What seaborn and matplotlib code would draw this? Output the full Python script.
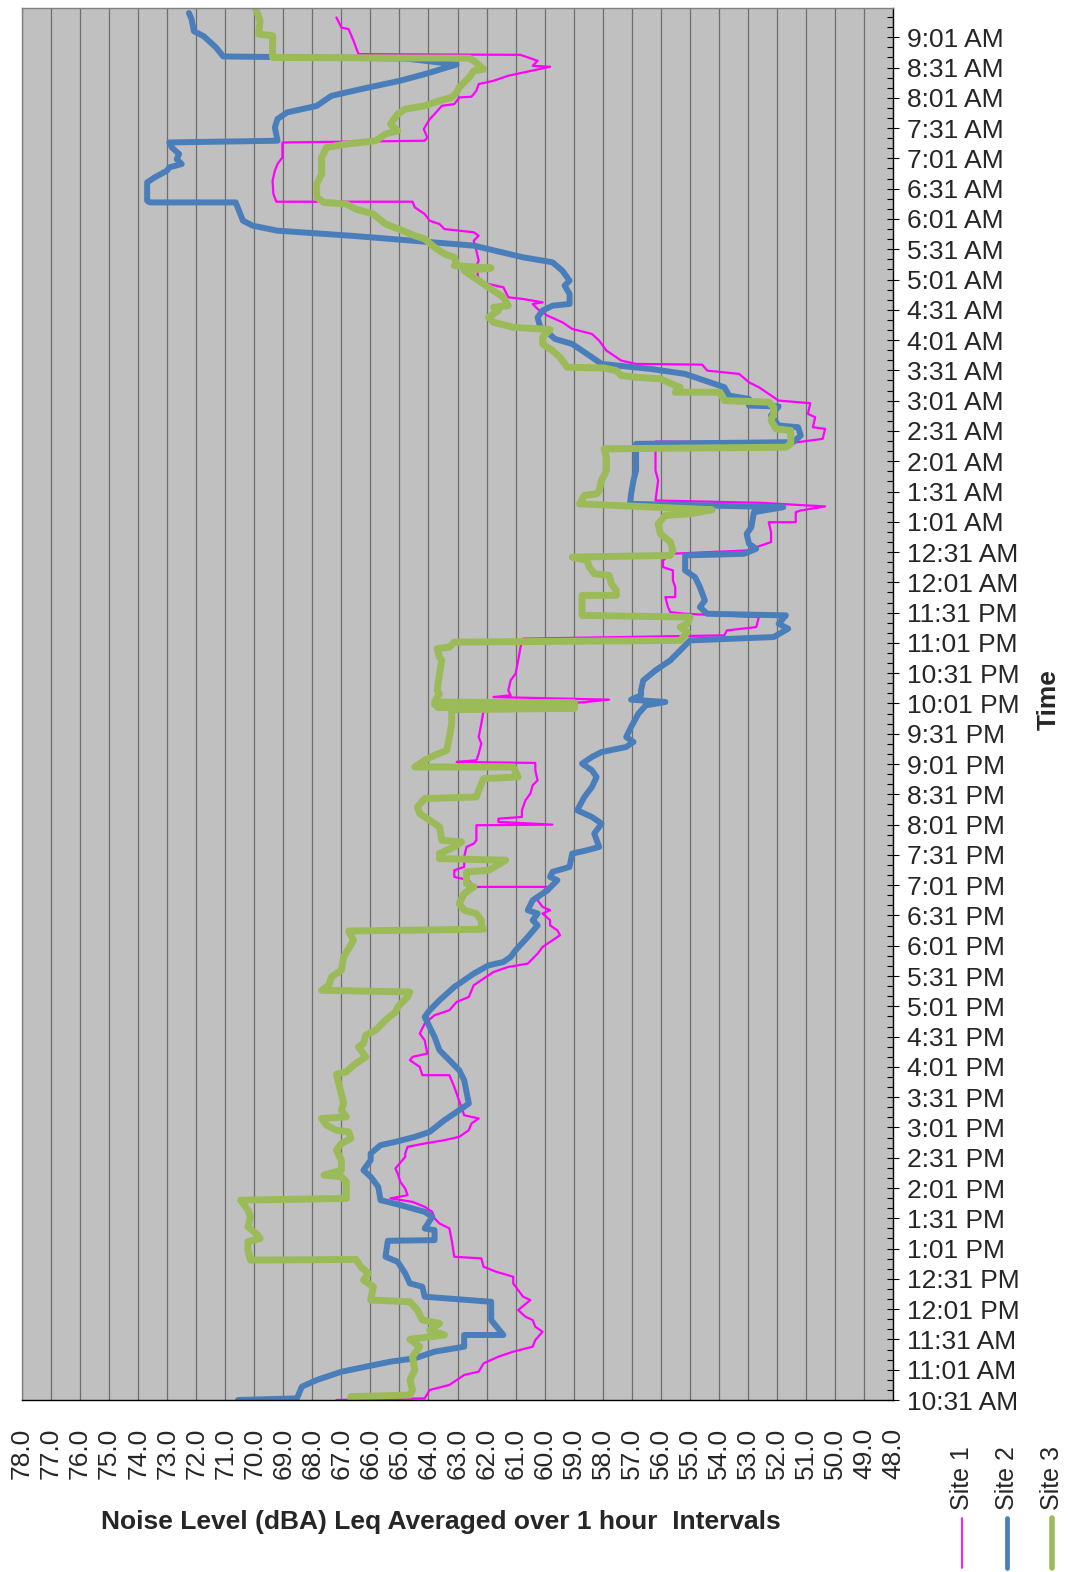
import numpy as np
import pandas as pd
import matplotlib
matplotlib.use("Agg")
import matplotlib.pyplot as plt
from matplotlib.ticker import MultipleLocator
from matplotlib.lines import Line2D
import seaborn as sns

# ---------------- data (minutes after 10:31 AM, noise level dBA) ----------------
TIME_LABELS = ["10:31 AM", "11:01 AM", "11:31 AM", "12:01 PM", "12:31 PM", "1:01 PM", "1:31 PM",
               "2:01 PM", "2:31 PM", "3:01 PM", "3:31 PM", "4:01 PM", "4:31 PM", "5:01 PM",
               "5:31 PM", "6:01 PM", "6:31 PM", "7:01 PM", "7:31 PM", "8:01 PM", "8:31 PM",
               "9:01 PM", "9:31 PM", "10:01 PM", "10:31 PM", "11:01 PM", "11:31 PM", "12:01 AM",
               "12:31 AM", "1:01 AM", "1:31 AM", "2:01 AM", "2:31 AM", "3:01 AM", "3:31 AM",
               "4:01 AM", "4:31 AM", "5:01 AM", "5:31 AM", "6:01 AM", "6:31 AM", "7:01 AM",
               "7:31 AM", "8:01 AM", "8:31 AM", "9:01 AM"]
LEVEL_TICKS = [48.0 + i for i in range(31)]
SERIES_NAMES = ["Site 1", "Site 2", "Site 3"]

SITE1 = [(1369.6,67.17),(1359.7,67.00),(1358,66.75),(1346.5,66.58),(1333.3,66.41),(1332.6,60.83),
(1326.7,60.24),(1321.7,60.41),(1320.8,59.81),(1315.1,60.74),(1311.9,61.25),(1306.9,61.76),(1303.6,62.27),
(1297,62.35),(1291.1,62.52),(1290.4,62.94),(1283.8,63.11),(1282.1,63.54),(1273.9,63.79),(1268.9,63.96),
(1259,64.16),(1250.8,64.04),(1247.5,64.13),(1245.8,69.03),(1231,69.03),(1224.4,69.20),(1217.8,69.29),
(1207.9,69.37),(1194.7,69.34),(1187.1,69.24),(1187.1,64.55),(1181.5,64.47),(1174.9,64.13),(1168.3,63.96),
(1165,63.62),(1160,63.45),(1156.8,62.44),(1153.4,62.27),(1148.5,62.44),(1138.6,62.35),(1128.7,62.27),
(1123.8,62.35),(1108.9,62.27),(1105.6,61.93),(1102.3,61.42),(1092.4,61.25),(1090.7,60.74),(1087.4,60.07),
(1085.8,60.41),(1080.8,60.24),(1074.2,59.90),(1067.7,59.39),(1061.1,59.05),(1056.1,58.37),(1049.5,58.12),
(1039.6,57.87),(1029.7,57.36),(1026.4,56.85),(1025.7,54.57),(1019.8,54.40),(1016.5,53.30),(1008.2,52.96),
(1003.3,52.62),(996.7,52.28),(990.1,51.94),(987.5,50.85),(976.9,50.93),(973.6,50.68),(963.7,50.76),
(962.1,50.34),(952.2,50.42),(948.9,51.27),(949.5,56.18),(920.8,56.18),(910.9,56.09),(891.1,56.18),
(888.8,52.54),(885.2,50.34),(881.2,51.18),(879.5,51.35),(869.6,51.35),(869.6,52.28),(859.7,52.20),
(849.9,52.20),(841.6,53.04),(838.3,55.67),(831.7,55.92),(825.1,55.92),(821.8,55.58),(811.9,55.58),
(805.3,55.50),(795.4,55.50),(795.4,55.84),(785.5,55.75),(780.5,55.67),(778.9,55.16),(775.6,52.62),
(765.7,52.71),(762.4,53.72),(757.5,53.81),(754.2,60.74),(745.9,60.83),(732.7,60.91),(719.5,61.00),
(712.9,61.17),(703,61.25),(698.1,61.17),(696.4,61.76),(693.8,57.78),(691.1,58.71),(688.2,62.06),
(683.2,62.10),(670,62.18),(656.8,62.27),(650.2,62.18),(640.3,62.27),(633.7,62.35),(632.1,63.03),
(631.1,60.32),(623.8,60.32),(613.9,60.24),(609,60.41),(600.7,60.49),(594.1,60.66),(584.2,60.78),
(577.6,60.78),(575.9,61.59),(572.7,61.59),(570,59.73),(569.4,62.35),(554.5,62.35),(551.2,62.44),
(547.9,62.69),(538,62.77),(528.1,62.77),(524.8,63.11),(518.2,63.11),(516.5,62.86),(514.9,62.61),
(508.3,62.44),(508.3,59.90),(503.4,60.07),(495.1,60.24),(488.5,60.07),(485.2,59.81),(481.9,60.07),
(475.3,59.81),(470.2,59.81),(465.3,59.56),(460.4,59.47),(455.4,59.73),(448.8,60.07),(442.2,60.24),
(432.3,60.58),(429,61.25),(424,61.76),(417.4,62.10),(410.9,62.44),(399.3,62.61),(394.3,63.03),
(386.1,63.28),(381.2,63.79),(372.9,64.13),(363,64.30),(356.4,64.13),(343.2,64.04),(339.9,64.55),
(336.6,64.64),(330,64.30),(321.8,64.21),(321.8,63.28),(310.2,63.11),(303.6,63.03),(282.1,62.77),
(278.9,62.27),(273.9,62.52),(267.3,62.61),(260.7,62.94),(257.4,63.45),(254.1,64.13),(250.8,64.72),
(244.2,64.80),(240.9,64.80),(229.4,65.14),(224.4,65.06),(216.2,64.97),(209.5,64.80),(202.9,64.72),
(199.7,65.31),(196.3,64.55),(191.4,64.13),(186.4,63.87),(179.9,63.79),(174.9,63.62),(170,63.28),
(158.4,63.20),(141.9,63.11),(140.3,62.18),(132,62.10),(127.1,61.67),(122.1,61.08),(115.5,61.08),
(108.9,60.91),(102.3,60.74),(99,60.49),(89.1,60.91),(82.5,60.66),(79.2,60.41),(72.6,60.32),
(67.6,60.07),(59.4,60.32),(52.8,60.41),(47.9,61.08),(42.9,61.59),(36.3,62.10),(28.1,62.27),
(24.8,62.77),(14.9,63.28),(9.9,63.96),(1.6,64.13),(0,67.17)]

SITE2 = [(1374,72.25),(1368,72.16),(1356,72.08),(1351,71.74),(1340,71.32),(1331,71.07),(1329,64.80),
(1323,63.03),(1313.5,64.13),(1307,64.97),(1298.6,66.33),(1292,67.34),(1287,67.60),(1282,67.85),
(1275.6,68.87),(1269,69.20),(1260.7,69.29),(1247.5,69.20),(1245.8,72.93),(1240.9,72.84),(1234.3,72.59),
(1229.3,72.67),(1224.4,72.50),(1221.1,72.93),(1217.8,73.01),(1211.2,73.43),(1206.2,73.69),(1188.1,73.69),
(1186.4,73.60),(1186.4,70.64),(1168.3,70.39),(1163.3,70.05),(1158.4,69.20),(1153.4,66.67),(1143.6,62.44),
(1132,60.74),(1127.1,59.73),(1118.8,59.39),(1108.9,59.14),(1104,59.31),(1095.7,59.14),(1085.8,59.14),
(1084.1,59.73),(1079.2,60.07),(1072.6,60.24),(1062.7,60.15),(1057.7,59.90),(1051.1,59.64),(1046.2,59.05),
(1033,58.37),(1026.4,58.04),(1021.4,56.34),(1016.5,55.16),(1008.2,54.31),(1003.3,53.81),(995,53.64),
(991.7,52.96),(985.2,52.96),(984.2,51.94),(975.3,52.20),(965.4,51.94),(963.7,51.27),(955.5,51.18),
(948.9,51.44),(947.2,56.85),(940.6,56.85),(920.8,56.85),(910.9,56.94),(897.7,57.02),(887.8,57.06),
(884.5,51.78),(879.5,52.79),(864.7,52.88),(858.1,53.04),(848.2,52.96),(843.3,52.71),(838.3,53.13),
(836.7,55.16),(821.8,55.16),(815.2,54.82),(805.3,54.65),(792.1,54.48),(785.5,54.65),(778.9,54.40),
(777.3,51.69),(769,51.94),(764.1,51.61),(755.8,52.11),(752.5,54.99),(742.6,55.33),(732.7,55.67),
(722.8,56.18),(712.9,56.60),(703,56.68),(698.1,56.68),(693.8,57.02),(691.5,55.84),(688.2,56.51),
(679.9,56.77),(666.7,57.02),(656.8,57.19),(651.9,56.94),(646.9,57.19),(641.9,58.04),(637,58.37),
(630.4,58.71),(623.8,58.37),(617.2,58.21),(607.3,58.37),(597.4,58.63),(584.2,58.88),(577.6,58.37),
(571,58.04),(561.1,58.29),(547.9,58.12),(544.6,58.54),(541.3,59.05),(528.1,59.14),(523.2,59.73),
(518.2,59.81),(514.9,59.56),(505,59.90),(495.1,60.41),(485.2,60.58),(481.9,60.24),(475.3,60.41),
(470.2,60.24),(458.7,60.58),(445.5,61.00),(438.9,61.17),(433.9,61.42),(430.6,61.93),(422.4,62.44),
(409.2,63.11),(396,63.62),(386.1,63.96),(379.5,64.13),(369.6,63.96),(359.7,63.79),(346.5,63.62),
(336.6,63.28),(326.7,62.94),(316.8,62.77),(293.7,62.61),(287.1,62.94),(277.2,63.45),(265.6,63.96),
(260.7,64.47),(255.7,65.14),(252.5,65.65),(244.2,65.99),(237.6,65.99),(227.7,66.24),(221.1,65.99),
(211.2,65.73),(198,65.65),(193.1,64.97),(186.4,64.13),(181.5,63.87),(169.9,64.13),(168.3,63.79),
(158.4,63.79),(157.7,65.40),(141.9,65.48),(136.9,65.06),(125.4,64.80),(115.5,64.64),(112.2,64.21),
(102.3,64.13),(97.3,61.84),(79.2,61.84),(64.4,61.42),(64.4,62.77),(52.8,62.77),(47.9,63.79),
(41.3,64.47),(38,65.31),(33,66.16),(28,67.00),(19.8,67.85),(13.2,68.36),(1.6,68.53),(0,70.56)]

SITE3 = [(1379.5,69.97),(1372.9,69.88),(1366.3,69.80),(1353.1,69.85),(1351.5,69.37),(1330,69.37),
(1329.3,62.60),(1326.7,62.44),(1318.4,62.10),(1316.8,62.44),(1310.2,62.60),(1300.3,62.94),(1295.4,63.03),
(1290.4,63.20),(1287.1,63.62),(1282.1,64.13),(1278.8,64.80),(1273.9,65.06),(1264,65.31),(1257.4,65.06),
(1254.1,65.48),(1247.5,65.82),(1244.2,66.83),(1240.9,67.51),(1231,67.68),(1214.5,67.68),(1204.6,67.85),
(1191.4,67.85),(1186.4,67.60),(1184.8,66.83),(1179.8,66.50),(1174.9,65.90),(1165,65.48),(1158.4,64.89),
(1153.4,64.47),(1150.2,64.13),(1141.9,63.79),(1135.3,63.45),(1132,63.11),(1125.4,63.03),(1123.8,63.11),
(1121.4,61.84),(1118.8,62.77),(1112.2,62.44),(1105.6,62.10),(1099,61.76),(1092.4,61.42),(1084.1,61.25),
(1082.5,61.76),(1079.2,61.59),(1072.6,61.93),(1067.7,61.76),(1062.7,61.08),(1060.4,59.81),(1052.8,60.07),
(1046.2,60.07),(1039.6,59.73),(1033,59.47),(1023.1,59.22),(1022.4,57.95),(1019.8,57.53),(1014.9,57.36),
(1013.2,56.85),(1011.6,56.01),(1005,55.50),(1003.3,55.33),(998.4,55.50),(998.4,53.98),(990.1,53.81),
(988.5,52.28),(983.5,52.11),(976.9,52.11),(970.3,52.20),(962.1,52.03),(960.4,51.52),(947.2,51.52),
(943.9,51.69),(942.3,57.95),(934,57.87),(920.8,57.87),(910.9,58.04),(901,58.12),(897.7,58.21),
(896.1,58.63),(887.8,58.80),(881.9,54.23),(877.9,54.99),(876.3,55.84),(868,56.09),(858.1,56.01),
(849.9,55.67),(841.6,55.58),(836.7,55.67),(835,59.05),(831.7,58.54),(825.1,58.46),(818.5,58.29),
(816.9,57.78),(808.6,57.70),(802,57.53),(797.1,57.53),(797.1,58.71),(777.3,58.71),(775.6,54.99),
(769,55.08),(765.7,55.33),(760.7,55.08),(752.5,55.33),(750.8,63.11),(745.9,63.28),(744.3,63.70),
(736,63.62),(732.7,63.54),(719.5,63.62),(703,63.70),(699.7,63.62),(691.5,63.79),(690.5,58.97),
(689.1,63.79),(687.8,58.97),(686.5,63.70),(685.2,58.97),(683.9,63.20),(670,63.20),(656.8,63.28),
(643.6,63.37),(638.7,63.79),(633.7,64.13),(627.1,64.47),(627.1,61.08),(617.2,60.91),(615.6,62.10),
(604,62.27),(597.4,62.35),(595.8,64.13),(587.5,64.38),(580.9,64.30),(572.7,63.87),(567.7,63.62),
(554.5,63.54),(552.9,62.86),(547.9,63.11),(541.3,63.62),(536.4,63.62),(534.7,61.34),(524.8,61.93),
(523.2,62.69),(511.6,62.69),(508.3,62.44),(501.7,62.77),(491.8,62.94),(485.2,62.77),(481.9,62.35),
(475.3,62.18),(470.4,62.18),(466.4,62.10),(464.6,66.75),(455.4,66.58),(447.1,66.75),(438.9,66.92),
(425.7,67.00),(419.1,67.34),(410.9,67.43),(405.9,67.68),(404.2,64.64),(399.3,64.72),(389.4,65.06),
(384.4,65.14),(376.2,65.48),(366.3,65.82),(361.4,66.16),(353.1,66.24),(349.8,66.41),(339.9,66.16),
(331.7,66.58),(325.1,66.83),(322.7,67.17),(313.5,67.09),(303.6,67.00),(293.7,66.92),(287.1,67.00),
(280.5,66.83),(278.9,67.68),(272.2,67.51),(267.3,67.17),(265.6,66.75),(259.1,66.67),(254.1,67.00),
(247.5,67.17),(237.6,67.00),(227.7,67.00),(222.8,67.60),(221.1,67.00),(216.2,66.83),(199.7,66.83),
(198,70.47),(188.1,70.22),(181.5,70.13),(171.6,70.22),(163.4,69.88),(160,69.80),(156.8,70.22),
(148.5,70.22),(138.6,70.13),(139.3,66.50),(132,66.33),(125.4,66.07),(118.8,66.24),(112.2,65.90),
(99,65.99),(97.3,64.64),(89.1,64.38),(79.2,64.21),(75.9,63.62),(69.3,63.96),(64.4,63.45),(60.1,64.64),
(52.8,64.30),(42.9,64.55),(29.7,64.47),(19.8,64.64),(9.9,64.55),(4.9,64.64),(3.3,66.67),(0,66.67)]

COLORS = {"Site 1": "#FF00FF", "Site 2": "#4A7EBB", "Site 3": "#9BBB59"}
WIDTHS = {"Site 1": 1.6, "Site 2": 4.3, "Site 3": 5.0}

# ---------------- build figure ----------------
sns.set_style("white")
plt.rcParams["font.family"] = ["Liberation Sans", "DejaVu Sans"]

W, H = 1068, 1572
fig = plt.figure(figsize=(W / 100, H / 100), dpi=100)
ax = fig.add_axes([22 / W, 1 - 1400 / H, 871 / W, 1392 / H])
ax.set_facecolor("#C0C0C0")

for name, pts in zip(SERIES_NAMES, [SITE1, SITE2, SITE3]):
    df = pd.DataFrame(pts, columns=["minutes", "level"])
    sns.lineplot(data=df, x="level", y="minutes", sort=False, estimator=None, orient="y",
                 color=COLORS[name], linewidth=WIDTHS[name], ax=ax, legend=False,
                 solid_joinstyle="round", solid_capstyle="round")

ax.set_xlim(78, 48)
ax.set_ylim(0, 1379)

ax.set_xticks(LEVEL_TICKS)
ax.set_xticklabels([f"{v:.1f}" for v in LEVEL_TICKS], rotation=90)
ax.xaxis.set_minor_locator(MultipleLocator(0.5))
ax.tick_params(axis="x", which="major", direction="inout", length=8, width=0.8,
               color="black", labelsize=19, pad=16)
ax.tick_params(axis="x", which="minor", direction="in", length=4, width=0.8, color="black")

ax.yaxis.tick_right()
ax.set_yticks([30 * i for i in range(len(TIME_LABELS))])
ax.set_yticklabels(TIME_LABELS)
ax.yaxis.set_minor_locator(MultipleLocator(10))
ax.tick_params(axis="y", which="major", direction="inout", length=8, width=0.8,
               color="black", labelsize=19, pad=6)
ax.tick_params(axis="y", which="minor", direction="in", length=4, width=0.8, color="black")

ax.grid(axis="x", which="major", color="#6E6E6E", linewidth=0.9)
ax.grid(axis="y", visible=False)
ax.set_axisbelow(True)

for side in ["top", "left"]:
    ax.spines[side].set_color("#808080")
    ax.spines[side].set_linewidth(1.0)
for side in ["bottom", "right"]:
    ax.spines[side].set_color("black")
    ax.spines[side].set_linewidth(1.0)
    ax.spines[side].set_visible(True)

ax.set_xlabel("Noise Level (dBA) Leq Averaged over 1 hour  Intervals",
              fontsize=19, fontweight="bold")
ax.xaxis.set_label_coords((441 - 22) / 871, (1400 - 1510) / 1392)

ax.yaxis.set_label_position("right")
ylab = ax.set_ylabel("Time", fontsize=19, fontweight="bold", rotation=90)
ax.yaxis.set_label_coords((1049 - 22) / 871, (1400 - 700) / 1392)
ylab.set_va("center")
ylab.set_ha("center")
ylab.set_rotation_mode("default")

# legend (vertical, rotated labels with line samples below)
for name, xc in zip(SERIES_NAMES, [962, 1007, 1052]):
    fig.text(xc / W, 1 - 1510 / H, name, rotation=90, ha="center", va="bottom", fontsize=18)
    fig.add_artist(Line2D([xc / W, xc / W], [1 - 1518 / H, 1 - 1568 / H],
                          transform=fig.transFigure, color=COLORS[name],
                          linewidth=WIDTHS[name] * 0.8, solid_capstyle="round"))

fig.savefig("out.png", dpi=100)
